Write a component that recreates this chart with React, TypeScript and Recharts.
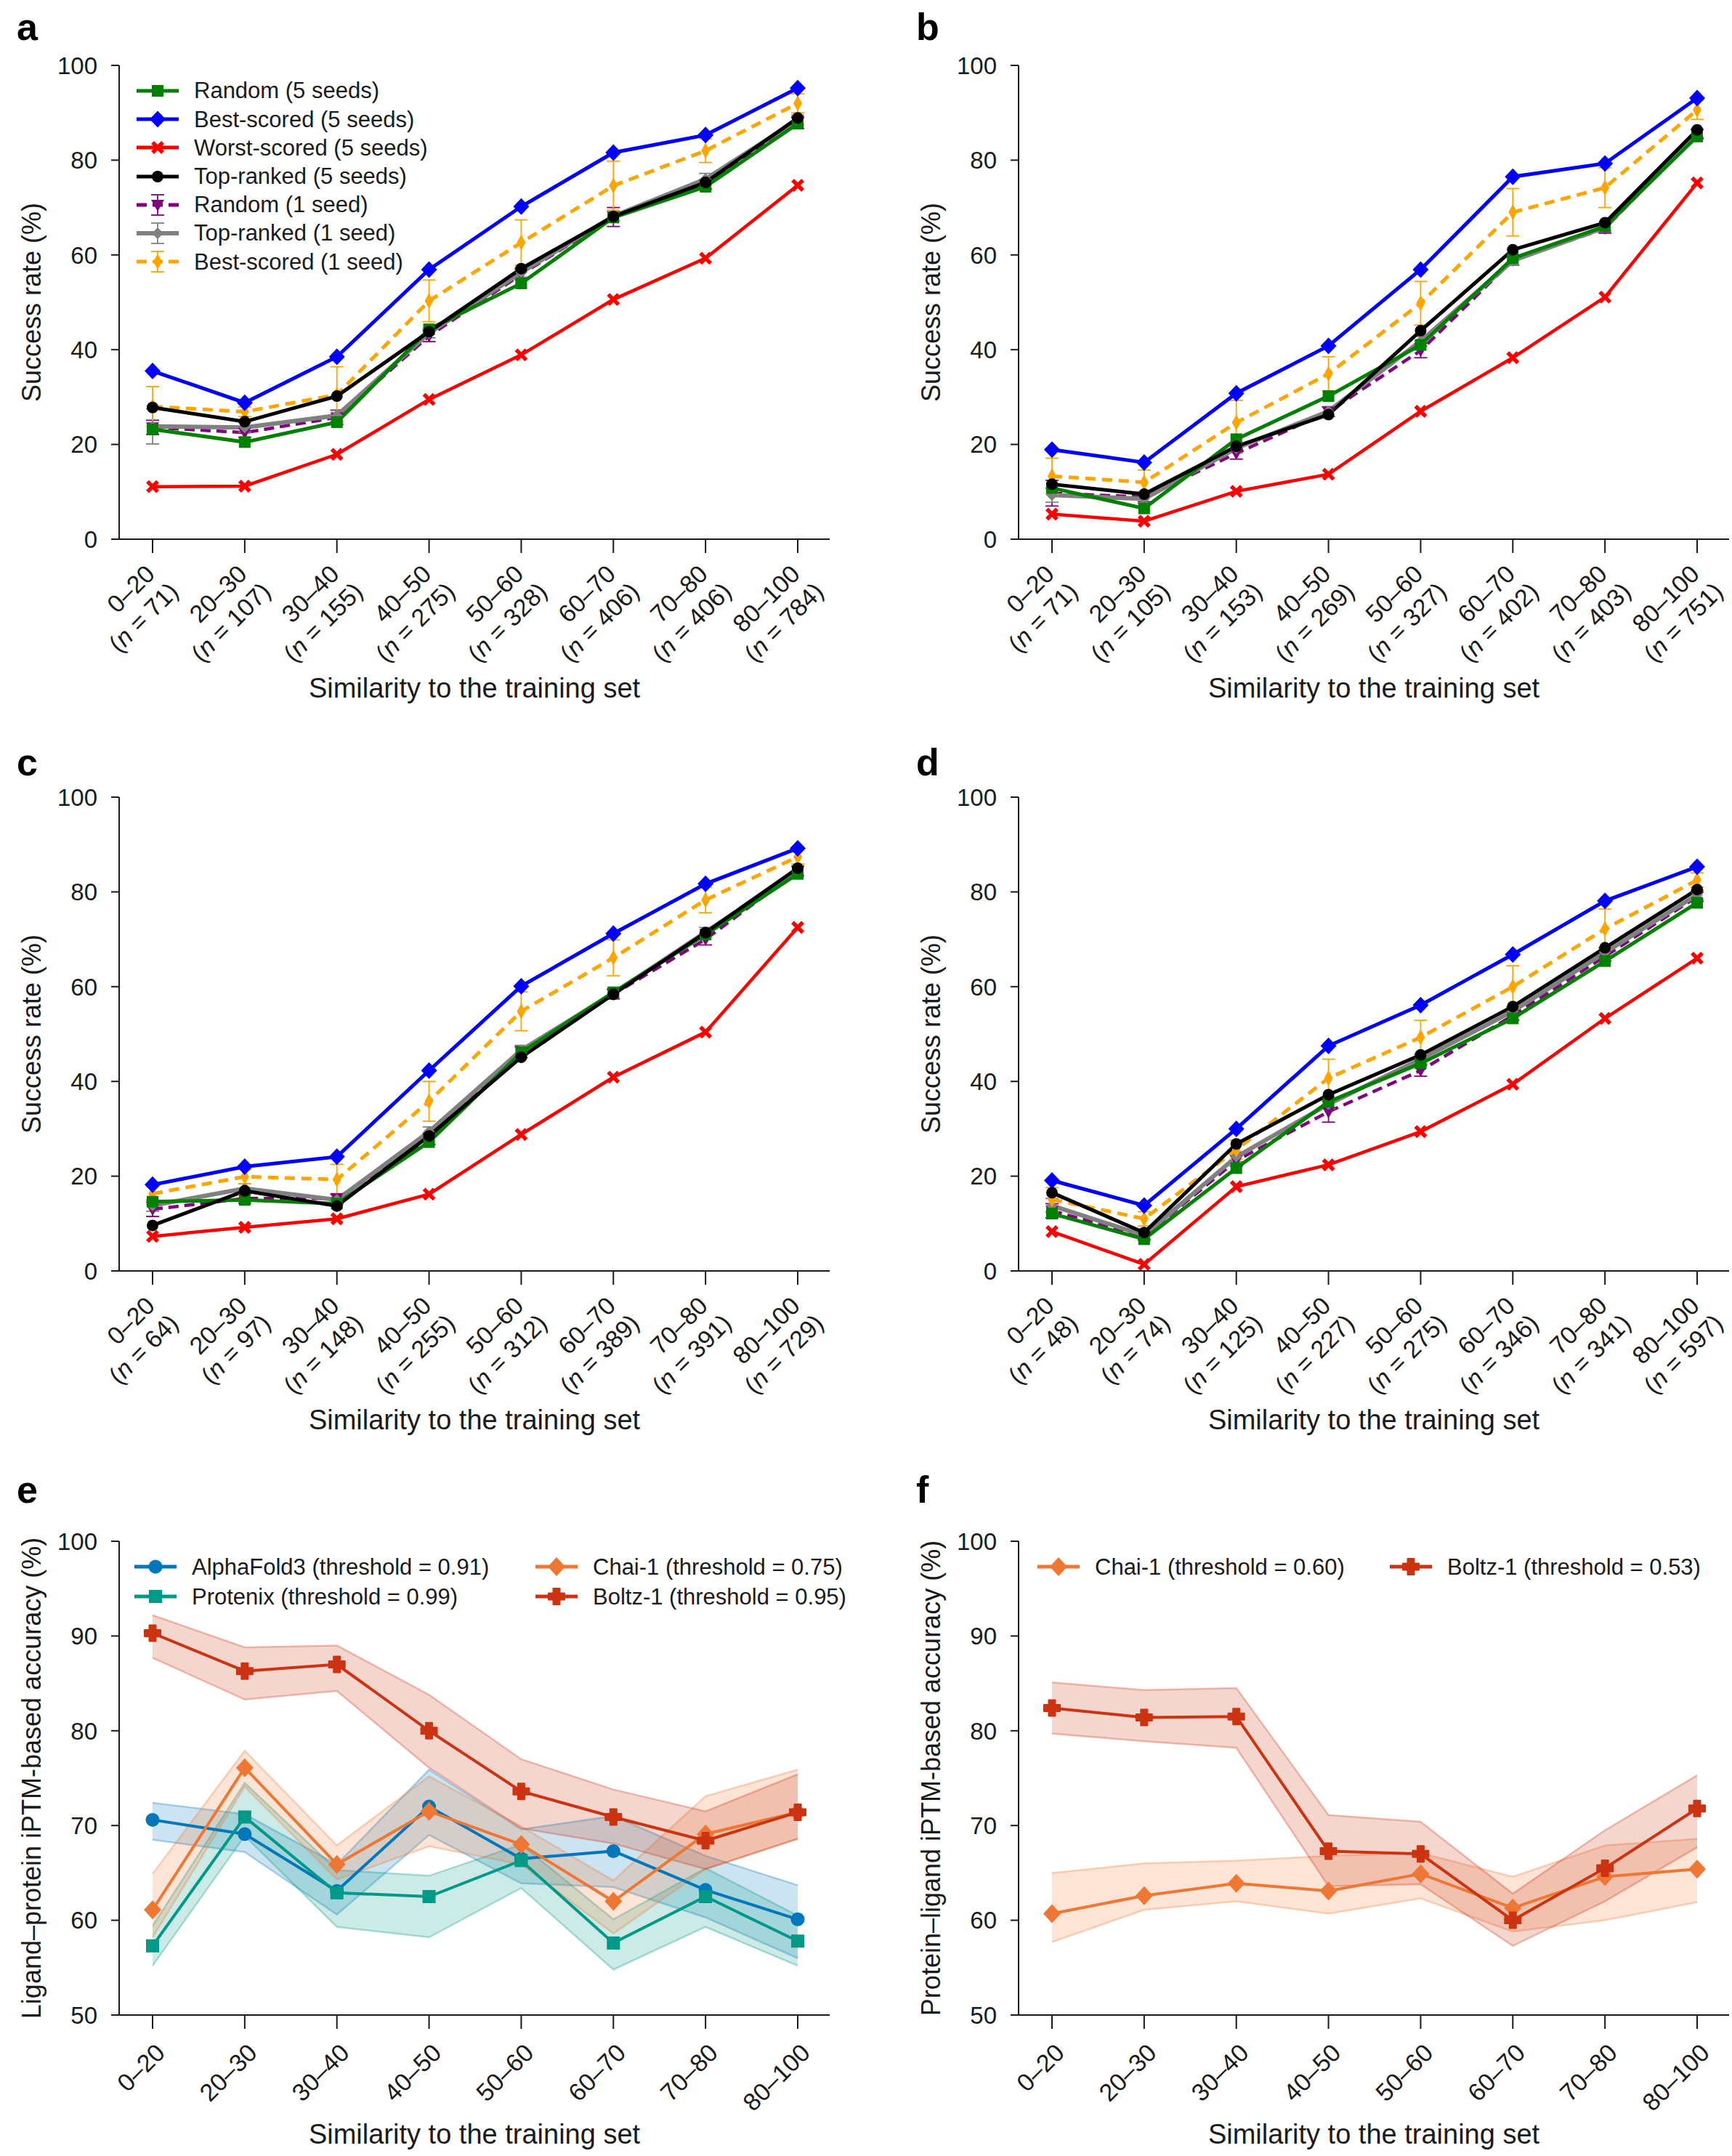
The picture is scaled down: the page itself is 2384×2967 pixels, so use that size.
import React from 'react';
import { LineChart, ComposedChart, Line, Area, XAxis, YAxis, ErrorBar, Legend } from 'recharts';

const FONT = "'Liberation Sans', Arial, Helvetica, sans-serif";
const INK = '#1a1a1a';

// ---------- categories & tick labels ----------
const categories = ['0–20', '20–30', '30–40', '40–50', '50–60', '60–70', '70–80', '80–100'];
const nA = [71, 107, 155, 275, 328, 406, 406, 784];
const nB = [71, 105, 153, 269, 327, 402, 403, 751];
const nC = [64, 97, 148, 255, 312, 389, 391, 729];
const nD = [48, 74, 125, 227, 275, 346, 341, 597];
const successTicks = [0, 20, 40, 60, 80, 100];
const accuracyTicks = [50, 60, 70, 80, 90, 100];

// ---------- panel a ----------
const aRandom5 = [23.2, 20.5, 24.7, 44.3, 54.0, 67.9, 74.4, 87.7];
const aBest5 = [35.5, 28.8, 38.5, 56.9, 70.2, 81.6, 85.3, 95.2];
const aWorst5 = [11.1, 11.2, 17.9, 29.5, 38.9, 50.6, 59.3, 74.7];
const aTop5 = [27.8, 24.8, 30.2, 43.8, 57.1, 68.1, 75.3, 88.9];
const aRandom1 = [23.6, 22.5, 25.7, 42.9, 55.9, 68.0, 74.9, 87.9];
const aRandom1Err = [1.5, 1.0, 1.5, 1.2, 1.2, 2.0, 1.0, 1.2];
const aTop1 = [23.8, 23.6, 26.1, 43.5, 56.3, 68.2, 76.0, 88.5];
const aTop1Err = [3.7, 1.0, 1.2, 1.0, 1.0, 1.0, 1.2, 1.0];
const aBest1 = [28.0, 26.9, 30.5, 50.3, 62.6, 74.6, 82.0, 92.0];
const aBest1Err = [4.2, 1.0, 5.9, 4.4, 4.8, 5.2, 2.5, 2.0];

// ---------- panel b ----------
const bRandom5 = [10.8, 6.5, 21.1, 30.2, 41.0, 59.3, 66.0, 85.0];
const bBest5 = [18.9, 16.2, 30.8, 40.8, 56.9, 76.5, 79.3, 93.1];
const bWorst5 = [5.3, 3.8, 10.1, 13.7, 27.0, 38.3, 51.1, 75.2];
const bTop5 = [11.6, 9.5, 19.6, 26.3, 44.0, 61.1, 66.8, 86.4];
const bRandom1 = [9.7, 8.9, 18.1, 26.9, 39.8, 58.9, 65.6, 85.5];
const bRandom1Err = [2.7, 1.0, 1.2, 1.0, 1.5, 1.0, 1.0, 1.0];
const bTop1 = [9.3, 8.5, 19.2, 27.0, 41.8, 58.8, 65.8, 85.6];
const bTop1Err = [1.5, 1.0, 1.0, 1.0, 1.0, 1.0, 0.8, 0.8];
const bBest1 = [13.3, 12.0, 24.6, 34.9, 49.8, 69.0, 74.2, 90.6];
const bBest1Err = [3.8, 2.6, 4.7, 3.6, 4.6, 5.0, 4.2, 2.0];

// ---------- panel c ----------
const cRandom5 = [14.6, 15.0, 14.2, 27.2, 46.1, 58.8, 71.0, 83.8];
const cBest5 = [18.2, 22.0, 24.1, 42.3, 60.1, 71.2, 81.7, 89.2];
const cWorst5 = [7.3, 9.2, 11.0, 16.2, 28.8, 40.9, 50.4, 72.5];
const cTop5 = [9.6, 16.9, 13.7, 28.5, 45.1, 58.4, 71.4, 85.0];
const cRandom1 = [13.0, 15.3, 15.3, 27.9, 46.2, 58.4, 70.0, 84.4];
const cRandom1Err = [1.5, 1.0, 1.0, 1.2, 1.2, 1.0, 1.2, 1.0];
const cTop1 = [13.8, 17.4, 15.0, 29.4, 46.6, 58.6, 71.5, 84.5];
const cTop1Err = [1.2, 1.0, 1.0, 1.0, 1.0, 1.0, 1.0, 1.0];
const cBest1 = [16.3, 19.9, 19.3, 35.8, 54.8, 66.1, 78.3, 87.4];
const cBest1Err = [1.5, 1.5, 3.2, 4.2, 4.1, 3.8, 2.7, 1.5];

// ---------- panel d ----------
const dRandom5 = [12.1, 6.7, 21.7, 35.7, 43.8, 53.3, 65.4, 77.7];
const dBest5 = [19.1, 13.8, 30.0, 47.5, 56.1, 66.8, 78.1, 85.3];
const dWorst5 = [8.3, 1.4, 17.8, 22.4, 29.4, 39.4, 53.3, 66.0];
const dTop5 = [16.5, 8.1, 26.8, 37.2, 45.6, 55.8, 68.2, 80.5];
const dRandom1 = [12.7, 7.3, 23.3, 33.6, 42.3, 53.9, 66.4, 79.0];
const dRandom1Err = [1.5, 0.8, 1.2, 2.2, 1.2, 1.0, 1.0, 1.0];
const dTop1 = [13.8, 7.5, 24.1, 35.2, 44.7, 54.8, 67.2, 79.4];
const dTop1Err = [1.5, 0.8, 1.0, 1.0, 1.0, 1.0, 1.0, 1.0];
const dBest1 = [15.1, 11.0, 25.6, 40.7, 49.3, 60.0, 72.2, 82.5];
const dBest1Err = [2.5, 1.5, 2.0, 4.0, 3.6, 4.4, 4.2, 1.5];

// ---------- panel e ----------
const eAf3 = [70.6, 69.1, 63.1, 72.0, 66.5, 67.3, 63.2, 60.1];
const eAf3Lo = [68.5, 67.2, 60.6, 69.0, 63.9, 63.5, 60.3, 56.0];
const eAf3Hi = [72.4, 71.2, 65.9, 75.9, 69.6, 71.0, 66.8, 63.7];
const eProtenix = [57.3, 70.9, 62.9, 62.5, 66.3, 57.6, 62.5, 57.8];
const eProtenixLo = [55.2, 68.9, 59.3, 58.2, 63.4, 54.8, 59.3, 55.2];
const eProtenixHi = [59.4, 74.5, 65.3, 64.7, 68.0, 60.1, 65.5, 60.5];
const eChai = [61.1, 76.1, 65.9, 71.5, 68.0, 62.0, 69.1, 71.4];
const eChaiLo = [58.2, 74.1, 64.3, 67.8, 65.9, 58.6, 65.4, 68.6];
const eChaiHi = [64.9, 77.9, 67.9, 75.2, 69.9, 64.2, 73.1, 75.9];
const eBoltz = [90.3, 86.3, 87.0, 80.0, 73.6, 70.9, 68.4, 71.4];
const eBoltzLo = [87.7, 83.3, 84.2, 76.1, 69.7, 68.1, 65.4, 68.6];
const eBoltzHi = [92.2, 88.8, 89.0, 83.8, 77.0, 73.8, 71.5, 75.4];

// ---------- panel f ----------
const fChai = [60.7, 62.6, 63.9, 63.1, 64.9, 61.3, 64.6, 65.4];
const fChaiLo = [57.7, 61.1, 62.0, 60.7, 62.3, 58.8, 60.0, 61.9];
const fChaiHi = [65.0, 66.0, 66.3, 66.8, 67.1, 64.6, 67.9, 68.6];
const fBoltz = [82.4, 81.4, 81.5, 67.3, 67.0, 60.0, 65.5, 71.8];
const fBoltzLo = [79.7, 78.9, 78.2, 63.6, 63.8, 57.3, 62.0, 67.7];
const fBoltzHi = [85.1, 84.3, 84.5, 71.1, 70.4, 62.8, 69.5, 75.3];

// ---------- colours ----------
const GREEN = '#008000';
const BLUE = '#0000ff';
const RED = '#ff0000';
const BLACK = '#000000';
const PURPLE = '#800080';
const GREY = '#808080';
const ORANGE = '#ffa500';
const C_AF3 = '#0077BB';
const C_PRO = '#009988';
const C_CHAI = '#EE7733';
const C_BOLTZ = '#CC3311';

// ---------- rows ----------
function successRows(n, r5, b5, w5, t5, r1, r1e, t1, t1e, b1, b1e) {
  return categories.map((cat, i) => ({
    cat, n: n[i],
    random5: r5[i], best5: b5[i], worst5: w5[i], top5: t5[i],
    random1: r1[i], random1Err: r1e[i],
    top1: t1[i], top1Err: t1e[i],
    best1: b1[i], best1Err: b1e[i],
  }));
}
const rowsA = successRows(nA, aRandom5, aBest5, aWorst5, aTop5, aRandom1, aRandom1Err, aTop1, aTop1Err, aBest1, aBest1Err);
const rowsB = successRows(nB, bRandom5, bBest5, bWorst5, bTop5, bRandom1, bRandom1Err, bTop1, bTop1Err, bBest1, bBest1Err);
const rowsC = successRows(nC, cRandom5, cBest5, cWorst5, cTop5, cRandom1, cRandom1Err, cTop1, cTop1Err, cBest1, cBest1Err);
const rowsD = successRows(nD, dRandom5, dBest5, dWorst5, dTop5, dRandom1, dRandom1Err, dTop1, dTop1Err, dBest1, dBest1Err);

const rowsE = categories.map((cat, i) => ({
  cat,
  af3: eAf3[i], af3Band: [eAf3Lo[i], eAf3Hi[i]],
  pro: eProtenix[i], proBand: [eProtenixLo[i], eProtenixHi[i]],
  chai: eChai[i], chaiBand: [eChaiLo[i], eChaiHi[i]],
  boltz: eBoltz[i], boltzBand: [eBoltzLo[i], eBoltzHi[i]],
}));
const rowsF = categories.map((cat, i) => ({
  cat,
  chai: fChai[i], chaiBand: [fChaiLo[i], fChaiHi[i]],
  boltz: fBoltz[i], boltzBand: [fBoltzLo[i], fBoltzHi[i]],
}));

// ---------- markers ----------
function Marker({ shape, cx, cy, color }) {
  if (cx == null || cy == null) return null;
  switch (shape) {
    case 'square':
      return <rect x={cx - 8} y={cy - 8} width={16} height={16} fill={color} />;
    case 'diamond':
      return <polygon points={`${cx},${cy - 11.5} ${cx + 11},${cy} ${cx},${cy + 11.5} ${cx - 11},${cy}`} fill={color} />;
    case 'x':
      return <path d={`M${cx - 7},${cy - 7}L${cx + 7},${cy + 7}M${cx + 7},${cy - 7}L${cx - 7},${cy + 7}`} stroke={color} strokeWidth={5.5} />;
    case 'circle':
      return <circle cx={cx} cy={cy} r={8} fill={color} />;
    case 'tri':
      return <polygon points={`${cx - 9},${cy - 7} ${cx + 9},${cy - 7} ${cx},${cy + 9}`} fill={color} />;
    case 'sdiamond':
      return <polygon points={`${cx},${cy - 8} ${cx + 8},${cy} ${cx},${cy + 8} ${cx - 8},${cy}`} fill={color} />;
    case 'tdiamond':
      return <polygon points={`${cx},${cy - 11} ${cx + 6},${cy} ${cx},${cy + 11} ${cx - 6},${cy}`} fill={color} />;
    case 'dot':
      return <circle cx={cx} cy={cy} r={9.5} fill={color} />;
    case 'sq2':
      return <rect x={cx - 9} y={cy - 9} width={18} height={18} fill={color} />;
    case 'dia2':
      return <polygon points={`${cx},${cy - 13} ${cx + 12},${cy} ${cx},${cy + 13} ${cx - 12},${cy}`} fill={color} />;
    case 'plus': {
      const a = 11, t = 4.5;
      return (
        <polygon
          points={`${cx - t},${cy - a} ${cx + t},${cy - a} ${cx + t},${cy - t} ${cx + a},${cy - t} ${cx + a},${cy + t} ${cx + t},${cy + t} ${cx + t},${cy + a} ${cx - t},${cy + a} ${cx - t},${cy + t} ${cx - a},${cy + t} ${cx - a},${cy - t} ${cx - t},${cy - t}`}
          fill={color}
          stroke={color}
          strokeWidth={2}
          strokeLinejoin="round"
        />
      );
    }
    default:
      return null;
  }
}
const dotOf = (shape, color) => (p) => <Marker key={`m${p.index}`} shape={shape} cx={p.cx} cy={p.cy} color={color} />;

function LegendSymbol({ color, shape, dashed, err }) {
  const w = 58;
  return (
    <svg width={w} height={36} style={{ display: 'block', overflow: 'visible', flex: 'none' }}>
      {err && (
        <g stroke={color} strokeWidth={1.8}>
          <line x1={w / 2} y1={4} x2={w / 2} y2={32} />
          <line x1={w / 2 - 9} y1={4} x2={w / 2 + 9} y2={4} />
          <line x1={w / 2 - 9} y1={32} x2={w / 2 + 9} y2={32} />
        </g>
      )}
      <line x1={0} y1={18} x2={w} y2={18} stroke={color} strokeWidth={shape === 'sdiamond' ? 6 : 5} strokeDasharray={dashed ? '14 8' : undefined} />
      <Marker shape={shape} cx={w / 2} cy={18} color={color} />
    </svg>
  );
}

function LegendGrid({ items, colX, rowH }) {
  const rows = Math.max(...items.map((it) => it.row)) + 1;
  return (
    <div style={{ position: 'relative', height: rows * rowH, width: 1000, fontFamily: FONT, fontSize: 31, color: INK }}>
      {items.map((it) => (
        <div key={it.label} style={{ position: 'absolute', left: colX[it.col], top: it.row * rowH, height: rowH, display: 'flex', alignItems: 'center' }}>
          <LegendSymbol color={it.color} shape={it.shape} dashed={it.dashed} err={it.err} />
          <span style={{ marginLeft: 21, whiteSpace: 'nowrap', lineHeight: 1 }}>{it.label}</span>
        </div>
      ))}
    </div>
  );
}

const legendA = [
  { label: 'Random (5 seeds)', color: GREEN, shape: 'square', row: 0, col: 0 },
  { label: 'Best-scored (5 seeds)', color: BLUE, shape: 'diamond', row: 1, col: 0 },
  { label: 'Worst-scored (5 seeds)', color: RED, shape: 'x', row: 2, col: 0 },
  { label: 'Top-ranked (5 seeds)', color: BLACK, shape: 'circle', row: 3, col: 0 },
  { label: 'Random (1 seed)', color: PURPLE, shape: 'tri', dashed: true, err: true, row: 4, col: 0 },
  { label: 'Top-ranked (1 seed)', color: GREY, shape: 'sdiamond', err: true, row: 5, col: 0 },
  { label: 'Best-scored (1 seed)', color: ORANGE, shape: 'tdiamond', dashed: true, err: true, row: 6, col: 0 },
];
const legendE = [
  { label: 'AlphaFold3 (threshold = 0.91)', color: C_AF3, shape: 'dot', row: 0, col: 0 },
  { label: 'Protenix (threshold = 0.99)', color: C_PRO, shape: 'sq2', row: 1, col: 0 },
  { label: 'Chai-1 (threshold = 0.75)', color: C_CHAI, shape: 'dia2', row: 0, col: 1 },
  { label: 'Boltz-1 (threshold = 0.95)', color: C_BOLTZ, shape: 'plus', row: 1, col: 1 },
];
const legendF = [
  { label: 'Chai-1 (threshold = 0.60)', color: C_CHAI, shape: 'dia2', row: 0, col: 0 },
  { label: 'Boltz-1 (threshold = 0.53)', color: C_BOLTZ, shape: 'plus', row: 0, col: 1 },
];

// ---------- ticks & labels ----------
function TwoLineTick(props) {
  const { x, y, payload, nList } = props;
  const idx = categories.indexOf(payload.value);
  return (
    <g transform={`translate(${x - 12},${y + 14})`}>
      <text transform="rotate(-45)" textAnchor="end" fontSize={34} fontFamily={FONT} fill={INK}>
        <tspan x={0} dy="0.71em">{payload.value}</tspan>
        <tspan x={6} dy={40}>
          (<tspan fontStyle="italic">n</tspan> = {nList[idx]})
        </tspan>
      </text>
    </g>
  );
}
function OneLineTick(props) {
  const { x, y, payload } = props;
  return (
    <g transform={`translate(${x + 2},${y + 18})`}>
      <text transform="rotate(-45)" textAnchor="end" fontSize={34} fontFamily={FONT} fill={INK}>
        <tspan x={0} dy="0.71em">{payload.value}</tspan>
      </text>
    </g>
  );
}
const yLabel = (text) => ({
  content: (p) => {
    const vb = (p && p.viewBox) || { x: 0, y: 90, width: 164, height: 652 };
    const cx = vb.x + 56;
    const cy = vb.y + vb.height / 2;
    return (
      <text x={cx} y={cy} transform={`rotate(-90 ${cx} ${cy})`} textAnchor="middle" fontSize={36} fontFamily={FONT} fill={INK}>
        {text}
      </text>
    );
  },
});
const xLabelStyle = { fontSize: 38, fontFamily: FONT, fill: INK };
const axisLine = { stroke: INK, strokeWidth: 2 };
const yTick = { fontSize: 33, fontFamily: FONT, fill: INK };

const PLOT_W = 978;
const PLOT_H = 652;
const TOP = 90;
const YW = 164;

function PanelLetter({ left, top, letter }) {
  return (
    <div style={{ position: 'absolute', left, top, fontFamily: FONT, fontWeight: 700, fontSize: 52, lineHeight: '52px', color: '#000' }}>
      {letter}
    </div>
  );
}
function AxisStub() {
  return <div style={{ position: 'absolute', left: 153, top: TOP + PLOT_H - 1, width: 12, height: 2, background: INK }} />;
}

function SuccessPanel({ left, top, width, rows, nList, showLegend }) {
  const height = 1000;
  return (
    <div style={{ position: 'absolute', left, top, width, height }}>
      <LineChart width={width} height={height} data={rows} margin={{ top: TOP, right: width - YW - PLOT_W, left: 0, bottom: 0 }}>
        <XAxis
          dataKey="cat"
          height={height - TOP - PLOT_H}
          padding={{ left: 46, right: 44 }}
          interval={0}
          tickSize={19}
          tickMargin={0}
          axisLine={axisLine}
          tickLine={axisLine}
          tick={(p) => <TwoLineTick {...p} nList={nList} />}
          label={{ value: 'Similarity to the training set', position: 'insideBottom', offset: 40, style: xLabelStyle }}
        />
        <YAxis
          width={YW}
          domain={[0, 100]}
          ticks={successTicks}
          interval={0}
          tickSize={11}
          tickMargin={19}
          axisLine={axisLine}
          tickLine={axisLine}
          tick={yTick}
          label={yLabel('Success rate (%)')}
        />
        <Line dataKey="random1" stroke={PURPLE} strokeWidth={4.5} strokeDasharray="14 8" dot={dotOf('tri', PURPLE)} activeDot={false} isAnimationActive={false}>
          <ErrorBar dataKey="random1Err" direction="y" width={9} stroke={PURPLE} strokeWidth={1.8} isAnimationActive={false} />
        </Line>
        <Line dataKey="top1" stroke={GREY} strokeWidth={6} dot={dotOf('sdiamond', GREY)} activeDot={false} isAnimationActive={false}>
          <ErrorBar dataKey="top1Err" direction="y" width={9} stroke={GREY} strokeWidth={1.8} isAnimationActive={false} />
        </Line>
        <Line dataKey="best1" stroke={ORANGE} strokeWidth={5} strokeDasharray="14 9" dot={dotOf('tdiamond', ORANGE)} activeDot={false} isAnimationActive={false}>
          <ErrorBar dataKey="best1Err" direction="y" width={9} stroke={ORANGE} strokeWidth={1.8} isAnimationActive={false} />
        </Line>
        <Line dataKey="random5" stroke={GREEN} strokeWidth={5} dot={dotOf('square', GREEN)} activeDot={false} isAnimationActive={false} />
        <Line dataKey="best5" stroke={BLUE} strokeWidth={5} dot={dotOf('diamond', BLUE)} activeDot={false} isAnimationActive={false} />
        <Line dataKey="worst5" stroke={RED} strokeWidth={4.5} dot={dotOf('x', RED)} activeDot={false} isAnimationActive={false} />
        <Line dataKey="top5" stroke={BLACK} strokeWidth={5} dot={dotOf('circle', BLACK)} activeDot={false} isAnimationActive={false} />
        {showLegend && (
          <Legend
            layout="vertical"
            align="center"
            verticalAlign="middle"
            content={() => <LegendGrid items={legendA} colX={[0]} rowH={39.2} />}
            wrapperStyle={{ position: 'absolute', left: 188, top: 105.4, width: 700, height: 280 }}
          />
        )}
      </LineChart>
      <AxisStub />
    </div>
  );
}

function bandArea(key, color) {
  return (
    <Area
      key={key}
      dataKey={key}
      type="linear"
      fill={color}
      fillOpacity={0.2}
      stroke={color}
      strokeOpacity={0.3}
      strokeWidth={2.5}
      dot={false}
      activeDot={false}
      legendType="none"
      isAnimationActive={false}
    />
  );
}

function AccuracyPanel({ left, top, width, rows, yText, children, legendItems, legendLeft, legendCols }) {
  const height = 936;
  return (
    <div style={{ position: 'absolute', left, top, width, height }}>
      <ComposedChart width={width} height={height} data={rows} margin={{ top: TOP, right: width - YW - PLOT_W, left: 0, bottom: 0 }}>
        <XAxis
          dataKey="cat"
          height={height - TOP - PLOT_H}
          padding={{ left: 46, right: 44 }}
          interval={0}
          tickSize={19}
          tickMargin={0}
          axisLine={axisLine}
          tickLine={axisLine}
          tick={(p) => <OneLineTick {...p} />}
          label={{ value: 'Similarity to the training set', position: 'insideBottom', offset: 17, style: xLabelStyle }}
        />
        <YAxis
          width={YW}
          domain={[50, 100]}
          ticks={accuracyTicks}
          interval={0}
          tickSize={11}
          tickMargin={19}
          axisLine={axisLine}
          tickLine={axisLine}
          tick={yTick}
          label={yLabel(yText)}
        />
        {children}
        <Legend
          layout="vertical"
          align="center"
          verticalAlign="middle"
          content={() => <LegendGrid items={legendItems} colX={legendCols} rowH={41} />}
          wrapperStyle={{ position: 'absolute', left: legendLeft, top: 104.5, width: 1000, height: 90 }}
        />
      </ComposedChart>
      <AxisStub />
    </div>
  );
}

export default function App() {
  const RIGHT_X = 1238;
  const RIGHT_W = 2384 - RIGHT_X;
  return (
    <div style={{ position: 'absolute', left: 0, top: 0, width: 2384, height: 2967, background: '#fff', overflow: 'hidden' }}>
      <SuccessPanel left={0} top={0} width={1192} rows={rowsA} nList={nA} showLegend />
      <SuccessPanel left={RIGHT_X} top={0} width={RIGHT_W} rows={rowsB} nList={nB} />
      <SuccessPanel left={0} top={1007} width={1192} rows={rowsC} nList={nC} />
      <SuccessPanel left={RIGHT_X} top={1007} width={RIGHT_W} rows={rowsD} nList={nD} />
      <AccuracyPanel
        left={0}
        top={2031}
        width={1192}
        rows={rowsE}
        yText="Ligand–protein iPTM-based accuracy (%)"
        legendItems={legendE}
        legendLeft={185}
        legendCols={[0, 552]}
      >
        {bandArea('af3Band', C_AF3)}
        {bandArea('proBand', C_PRO)}
        {bandArea('chaiBand', C_CHAI)}
        {bandArea('boltzBand', C_BOLTZ)}
        <Line dataKey="af3" stroke={C_AF3} strokeWidth={4} dot={dotOf('dot', C_AF3)} activeDot={false} isAnimationActive={false} />
        <Line dataKey="pro" stroke={C_PRO} strokeWidth={4} dot={dotOf('sq2', C_PRO)} activeDot={false} isAnimationActive={false} />
        <Line dataKey="chai" stroke={C_CHAI} strokeWidth={4} dot={dotOf('dia2', C_CHAI)} activeDot={false} isAnimationActive={false} />
        <Line dataKey="boltz" stroke={C_BOLTZ} strokeWidth={4} dot={dotOf('plus', C_BOLTZ)} activeDot={false} isAnimationActive={false} />
      </AccuracyPanel>
      <AccuracyPanel
        left={RIGHT_X}
        top={2031}
        width={RIGHT_W}
        rows={rowsF}
        yText="Protein–ligand iPTM-based accuracy (%)"
        legendItems={legendF}
        legendLeft={190}
        legendCols={[0, 485]}
      >
        {bandArea('chaiBand', C_CHAI)}
        {bandArea('boltzBand', C_BOLTZ)}
        <Line dataKey="chai" stroke={C_CHAI} strokeWidth={4} dot={dotOf('dia2', C_CHAI)} activeDot={false} isAnimationActive={false} />
        <Line dataKey="boltz" stroke={C_BOLTZ} strokeWidth={4} dot={dotOf('plus', C_BOLTZ)} activeDot={false} isAnimationActive={false} />
      </AccuracyPanel>
      <PanelLetter left={23} top={11} letter="a" />
      <PanelLetter left={1261} top={11} letter="b" />
      <PanelLetter left={23} top={1023} letter="c" />
      <PanelLetter left={1261} top={1023} letter="d" />
      <PanelLetter left={23} top={2024} letter="e" />
      <PanelLetter left={1261} top={2024} letter="f" />
    </div>
  );
}
